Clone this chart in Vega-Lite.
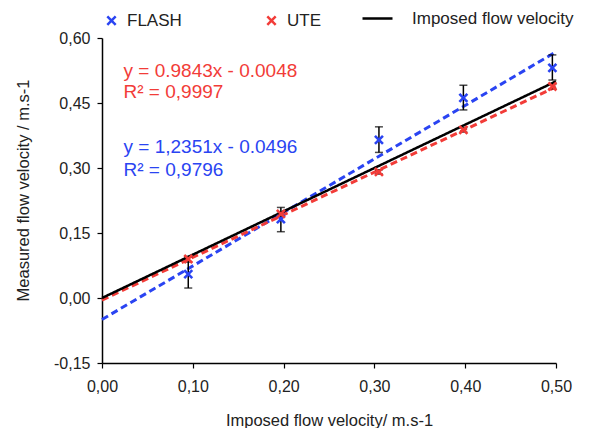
{
  "$schema": "https://vega.github.io/schema/vega-lite/v6.json",
  "width": 454,
  "height": 325,
  "autosize": {"type": "none"},
  "padding": {"left": 102, "top": 38, "right": 34, "bottom": 65},
  "background": "white",
  "config": {
    "view": {"stroke": null},
    "font": "Liberation Sans",
    "axis": {"grid": false, "labelFlush": false, "domainColor": "black", "domainWidth": 1.5, "tickColor": "black", "tickWidth": 1.2, "labelColor": "#222", "titleColor": "#222", "labelFont": "Liberation Sans", "titleFont": "Liberation Sans", "titleFontWeight": "normal", "labelFontSize": 16, "titleFontSize": 16.5}
  },
  "layer": [
    {
      "data": {"values": [
        {"series": "FLASH", "x": 0, "y": -0.0496},
        {"series": "FLASH", "x": 0.5, "y": 0.568},
        {"series": "UTE", "x": 0, "y": -0.0048},
        {"series": "UTE", "x": 0.5, "y": 0.4874}
      ]},
      "mark": {"type": "line", "strokeDash": [7, 4], "strokeWidth": 3},
      "encoding": {
        "x": {"field": "x", "type": "quantitative", "title": "Imposed flow velocity/ m.s-1"},
        "y": {"field": "y", "type": "quantitative", "title": "Measured flow velocity / m.s-1"},
        "detail": {"field": "series"},
        "color": {"field": "series", "type": "nominal"}
      }
    },
    {
      "data": {"values": [
        {"kind": "Imposed flow velocity", "x": 0, "y": 0},
        {"kind": "Imposed flow velocity", "x": 0.5, "y": 0.5}
      ]},
      "mark": {"type": "line", "strokeWidth": 2.5, "color": "black"},
      "encoding": {
        "x": {"field": "x", "type": "quantitative", "title": "Imposed flow velocity/ m.s-1"},
        "y": {"field": "y", "type": "quantitative", "title": "Measured flow velocity / m.s-1"},
        "strokeDash": {"field": "kind", "type": "nominal",
          "scale": {"domain": ["Imposed flow velocity"], "range": [[1, 0]]},
          "legend": {"title": null, "orient": "none", "direction": "horizontal", "legendX": 259, "legendY": -36, "symbolType": "stroke", "symbolSize": 900, "symbolStrokeWidth": 2.5, "symbolStrokeColor": "black", "labelFontSize": 17, "labelFont": "Liberation Sans", "labelColor": "#222", "labelOffset": 18, "labelLimit": 300}}
      }
    },
    {
      "data": {"values": [
        {"series": "FLASH", "x": 0.095, "lo": 0.023, "hi": 0.095},
        {"series": "FLASH", "x": 0.197, "lo": 0.153, "hi": 0.209},
        {"series": "FLASH", "x": 0.305, "lo": 0.336, "hi": 0.395},
        {"series": "FLASH", "x": 0.398, "lo": 0.434, "hi": 0.491},
        {"series": "FLASH", "x": 0.496, "lo": 0.503, "hi": 0.561},
        {"series": "UTE", "x": 0.095, "lo": 0.083, "hi": 0.096},
        {"series": "UTE", "x": 0.197, "lo": 0.189, "hi": 0.199},
        {"series": "UTE", "x": 0.305, "lo": 0.286, "hi": 0.296},
        {"series": "UTE", "x": 0.398, "lo": 0.383, "hi": 0.393},
        {"series": "UTE", "x": 0.496, "lo": 0.483, "hi": 0.493}
      ]},
      "mark": {"type": "errorbar", "ticks": {"size": 8, "color": "black", "thickness": 1.5}, "rule": {"color": "black", "strokeWidth": 1.5}},
      "encoding": {
        "x": {"field": "x", "type": "quantitative", "title": "Imposed flow velocity/ m.s-1"},
        "y": {"field": "lo", "type": "quantitative", "title": "Measured flow velocity / m.s-1"},
        "y2": {"field": "hi"}
      }
    },
    {
      "data": {"values": [
        {"series": "FLASH", "x": 0.095, "y": 0.055},
        {"series": "FLASH", "x": 0.197, "y": 0.182},
        {"series": "FLASH", "x": 0.305, "y": 0.365},
        {"series": "FLASH", "x": 0.398, "y": 0.462},
        {"series": "FLASH", "x": 0.496, "y": 0.531},
        {"series": "UTE", "x": 0.095, "y": 0.09},
        {"series": "UTE", "x": 0.197, "y": 0.194},
        {"series": "UTE", "x": 0.305, "y": 0.291},
        {"series": "UTE", "x": 0.398, "y": 0.388},
        {"series": "UTE", "x": 0.496, "y": 0.488}
      ]},
      "mark": {"type": "point", "filled": false, "strokeWidth": 2.6, "size": 64, "opacity": 1},
      "encoding": {
        "x": {"field": "x", "type": "quantitative",
          "scale": {"domain": [0, 0.5], "nice": false, "zero": false},
          "axis": {"title": "Imposed flow velocity/ m.s-1", "values": [0, 0.1, 0.2, 0.3, 0.4, 0.5], "labelExpr": "replace(format(datum.value, '.2f'), '.', ',')", "tickSize": 5, "labelPadding": 10, "titlePadding": 18}},
        "y": {"field": "y", "type": "quantitative",
          "scale": {"domain": [-0.15, 0.6], "nice": false, "zero": false},
          "axis": {"title": "Measured flow velocity / m.s-1", "values": [-0.15, 0, 0.15, 0.3, 0.45, 0.6], "labelExpr": "replace(replace(format(datum.value, '.2f'), '.', ','), '\u2212', '-')", "tickSize": 5, "labelPadding": 7, "titlePadding": 22, "titleY": 152}},
        "color": {"field": "series", "type": "nominal",
          "scale": {"domain": ["FLASH", "UTE"], "range": ["#2a44f2", "#f23c38"]},
          "legend": {"title": null, "orient": "none", "direction": "horizontal", "legendX": 1, "legendY": -26, "labelFontSize": 17, "labelFont": "Liberation Sans", "labelColor": "#222", "columnPadding": 80, "labelOffset": 7, "labelLimit": 300, "symbolSize": 70, "symbolStrokeWidth": 2.5,
            "encode": {"symbols": {"update": {"strokeDash": {"value": []}}}}}},
        "shape": {"field": "series", "type": "nominal",
          "scale": {"domain": ["FLASH", "UTE"], "range": ["M-1,-1L1,1M1,-1L-1,1", "M-1,-1L1,1M1,-1L-1,1"]}}
      }
    },
    {
      "data": {"values": [
        {"t": "y = 0.9843x - 0.0048", "x": 0.0237, "y": 0.510, "c": "UTE"},
        {"t": "R\u00b2 = 0,9997", "x": 0.0237, "y": 0.4616, "c": "UTE"},
        {"t": "y = 1,2351x - 0.0496", "x": 0.0237, "y": 0.3346, "c": "FLASH"},
        {"t": "R\u00b2 = 0,9796", "x": 0.0237, "y": 0.2816, "c": "FLASH"}
      ]},
      "mark": {"type": "text", "align": "left", "baseline": "alphabetic", "fontSize": 19, "font": "Liberation Sans"},
      "encoding": {
        "x": {"field": "x", "type": "quantitative"},
        "y": {"field": "y", "type": "quantitative"},
        "text": {"field": "t"},
        "color": {"field": "c", "type": "nominal"}
      }
    }
  ]
}
